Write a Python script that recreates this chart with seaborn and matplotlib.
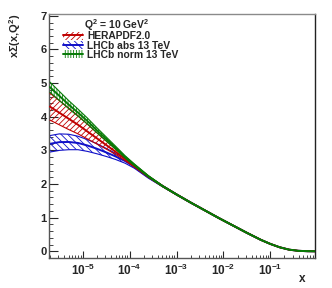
import numpy as np
import pandas as pd
import matplotlib
matplotlib.use("Agg")
import matplotlib.pyplot as plt
import seaborn as sns
from matplotlib.patches import Patch
from matplotlib.lines import Line2D
from matplotlib.ticker import LogLocator, MultipleLocator, NullFormatter

# ---- data ----
log_x = [-5.7, -5.5, -5.3, -5.1, -4.9, -4.7, -4.5, -4.3, -4.1, -3.9, -3.6, -3.3,
         -3.0, -2.7, -2.4, -2.1, -1.8, -1.5, -1.2, -1.0, -0.8, -0.6, -0.4, -0.2, -0.05]

hera_center = [4.30, 4.12, 3.94, 3.76, 3.56, 3.36, 3.16, 2.96, 2.75, 2.54, 2.22, 1.94,
               1.69, 1.45, 1.22, 0.99, 0.77, 0.55, 0.34, 0.22, 0.12, 0.05, 0.015, 0.003, 0.0]
hera_halfwidth = [0.40, 0.36, 0.32, 0.27, 0.22, 0.17, 0.12, 0.08, 0.05, 0.035, 0.02, 0.015,
                  0.012, 0.01, 0.01, 0.01, 0.01, 0.01, 0.008, 0.006, 0.005, 0.004, 0.003, 0.002, 0.002]

abs_center = [3.195, 3.245, 3.25, 3.22, 3.145, 3.05, 2.94, 2.82, 2.685, 2.515, 2.20, 1.94,
              1.69, 1.45, 1.22, 0.99, 0.77, 0.55, 0.34, 0.22, 0.12, 0.05, 0.015, 0.003, 0.0]
abs_halfwidth = [0.245, 0.245, 0.23, 0.20, 0.175, 0.15, 0.12, 0.09, 0.065, 0.045, 0.025, 0.018,
                 0.014, 0.012, 0.01, 0.01, 0.01, 0.01, 0.008, 0.006, 0.005, 0.004, 0.003, 0.002, 0.002]

norm_center = [4.88, 4.62, 4.36, 4.12, 3.87, 3.60, 3.34, 3.08, 2.81, 2.57, 2.23, 1.94,
               1.69, 1.45, 1.22, 0.99, 0.77, 0.55, 0.34, 0.22, 0.12, 0.05, 0.015, 0.003, 0.0]
norm_halfwidth = [0.15, 0.135, 0.12, 0.105, 0.09, 0.075, 0.06, 0.045, 0.035, 0.028, 0.02, 0.015,
                  0.012, 0.01, 0.01, 0.01, 0.01, 0.01, 0.008, 0.006, 0.005, 0.004, 0.003, 0.002, 0.002]

labels = ["HERAPDF2.0", "LHCb abs 13 TeV", "LHCb norm 13 TeV"]
y_ticks = [0, 1, 2, 3, 4, 5, 6, 7]

# ---- style ----
sns.set_theme(style="ticks")
plt.rcParams.update({
    "font.family": ["Liberation Sans", "DejaVu Sans"],
    "font.weight": "bold",
    "mathtext.fontset": "custom",
    "mathtext.rm": "Liberation Sans:bold",
    "mathtext.bf": "Liberation Sans:bold",
    "mathtext.it": "Liberation Sans:bold",
    "mathtext.sf": "Liberation Sans:bold",
    "mathtext.default": "bf",
    "hatch.linewidth": 0.6,
    "axes.linewidth": 1.0,
})

fig = plt.figure(figsize=(3.32, 2.88), dpi=100)
ax = fig.add_axes([0.149, 0.104, 0.8, 0.847])

x = 10 ** np.array(log_x)
series = [
    (labels[1], abs_center, abs_halfwidth, "#1010c8", "\\\\\\\\\\", 2),
    (labels[0], hera_center, hera_halfwidth, "#c00000", "//////", 3),
    (labels[2], norm_center, norm_halfwidth, "#067a06", "||||||", 4),
]

handles = {}
for label, c, hw, color, hatch, z in series:
    c = np.array(c)
    hw = np.array(hw)
    ax.fill_between(x, c - hw, c + hw, facecolor="none", edgecolor=color,
                    hatch=hatch, linewidth=0, zorder=z)
    ax.plot(x, c - hw, color=color, lw=0.8, zorder=z)
    ax.plot(x, c + hw, color=color, lw=0.8, zorder=z)
    df = pd.DataFrame({"x": x, "y": c})
    sns.lineplot(data=df, x="x", y="y", color=color, lw=1.4, ax=ax, zorder=z + 0.5)
    handles[label] = (Patch(facecolor="none", edgecolor=color, hatch=hatch, lw=0),
                      Line2D([], [], color=color, lw=1.4))

ax.set_xscale("log")
ax.set_xlim(10 ** -5.71, 10 ** -0.045)
ax.set_ylim(-0.2, 7.05)

ax.set_yticks(y_ticks)
ax.yaxis.set_minor_locator(MultipleLocator(0.2))
ax.xaxis.set_major_locator(LogLocator(base=10, numticks=12))
ax.xaxis.set_minor_locator(LogLocator(base=10, subs=np.arange(2, 10), numticks=12))
ax.xaxis.set_minor_formatter(NullFormatter())

ax.tick_params(axis="y", which="major", direction="in", length=6.5, width=0.8,
               labelsize=8, pad=2, left=True, right=False)
ax.tick_params(axis="y", which="minor", direction="in", length=3.2, width=0.6,
               left=True, right=False)
ax.tick_params(axis="x", which="major", direction="in", length=5, width=0.8,
               labelsize=8.5, pad=3.5, top=False, bottom=True)
ax.tick_params(axis="x", which="minor", direction="in", length=2.2, width=0.6,
               top=False, bottom=True)

ax.spines["top"].set_color("#8a8a8a")
ax.spines["right"].set_color("#222222")
ax.spines["left"].set_color("#555555")
ax.spines["bottom"].set_color("#555555")

ax.set_ylabel("xΣ(x,Q$^2$)", fontsize=8, fontweight="bold", loc="top")
ax.yaxis.set_label_coords(-0.10, 1.0)
ax.set_xlabel("x", fontsize=8.5, fontweight="bold", loc="right")
ax.xaxis.set_label_coords(0.962, -0.06)

ax.text(0.13, 0.94, "Q$^2$ = 10 GeV$^2$", transform=ax.transAxes,
        fontsize=7.5, fontweight="bold", va="baseline", ha="left")

ax.legend([handles[l] for l in labels], labels, loc="upper left",
          bbox_to_anchor=(0.05, 0.93), frameon=False, fontsize=7.4,
          borderpad=0, borderaxespad=0, handlelength=2.0, handleheight=0.8,
          handletextpad=0.35, labelspacing=-0.06)

fig.savefig("out.png", dpi=100)
